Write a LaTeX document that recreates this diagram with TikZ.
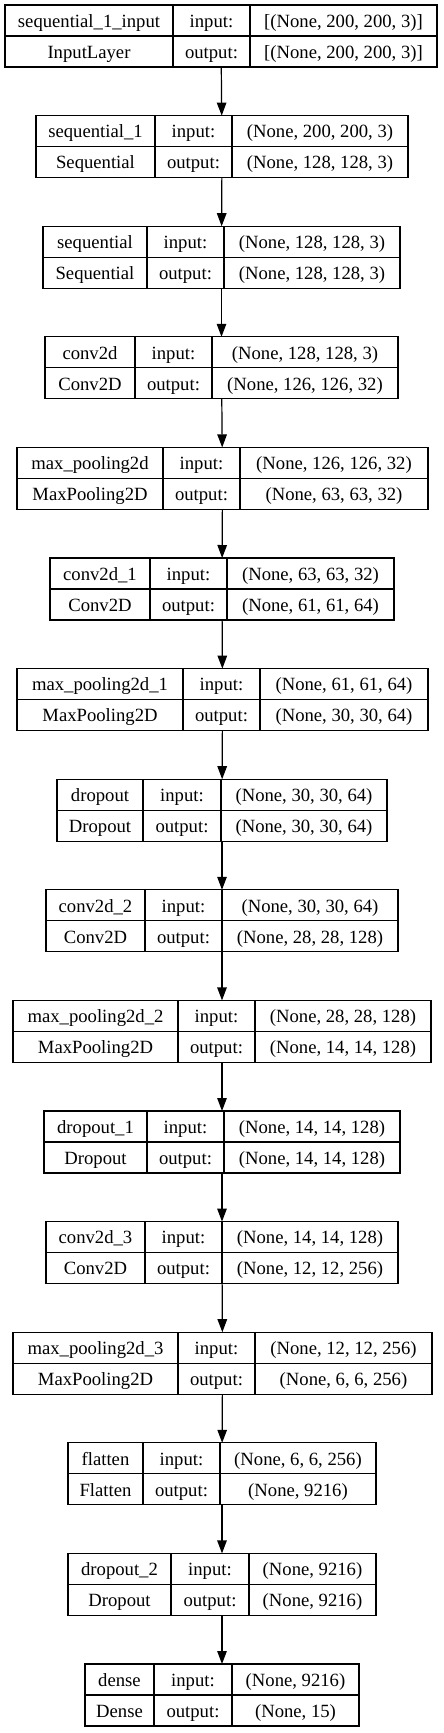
\documentclass[tikz,border=0pt]{standalone}
\usepackage{fontspec}
\setmainfont{Liberation Serif}
\usepackage{tikz}
\usetikzlibrary{arrows.meta}
\tikzstyle{frame}=[shape=rectangle, minimum height=62pt, inner sep=0pt, outer sep=0pt]
\tikzstyle{cell}=[draw=black, line width=1.2pt, shape=rectangle, minimum height=31pt, inner sep=0pt, outer sep=0pt, text height=13.5pt, text depth=0pt, font=\fontsize{18.67pt}{22pt}\selectfont]
\tikzstyle{flow edge}=[-{Triangle[length=13pt, width=9.5pt]}, draw=black, line width=1.2pt]
\pgfdeclarelayer{nodelayer}
\pgfdeclarelayer{edgelayer}
\pgfsetlayers{nodelayer,edgelayer,main}

\begin{document}
\begin{tikzpicture}[x=1pt, y=-1pt]
	\useasboundingbox (0,0) rectangle (444,1733);
	\begin{pgfonlayer}{nodelayer}
		% sequential_1_input
		\node [style=frame, minimum width=432pt] (0) at (221,36) {};
		\node [style=cell, minimum width=168pt] (0-name) at (89,20.5) {sequential\_1\_input};
		\node [style=cell, minimum width=77pt] (0-in) at (211.5,20.5) {input:};
		\node [style=cell, minimum width=187pt] (0-inval) at (343.5,20.5) {[(None, 200, 200, 3)]};
		\node [style=cell, minimum width=168pt] (0-type) at (89,51.5) {InputLayer};
		\node [style=cell, minimum width=77pt] (0-out) at (211.5,51.5) {output:};
		\node [style=cell, minimum width=187pt] (0-outval) at (343.5,51.5) {[(None, 200, 200, 3)]};
		% sequential_1
		\node [style=frame, minimum width=372pt] (1) at (222,146.6) {};
		\node [style=cell, minimum width=119pt] (1-name) at (95.5,131.1) {sequential\_1};
		\node [style=cell, minimum width=77pt] (1-in) at (193.5,131.1) {input:};
		\node [style=cell, minimum width=176pt] (1-inval) at (320,131.1) {(None, 200, 200, 3)};
		\node [style=cell, minimum width=119pt] (1-type) at (95.5,162.1) {Sequential};
		\node [style=cell, minimum width=77pt] (1-out) at (193.5,162.1) {output:};
		\node [style=cell, minimum width=176pt] (1-outval) at (320,162.1) {(None, 128, 128, 3)};
		% sequential
		\node [style=frame, minimum width=357pt] (2) at (221.5,257.2) {};
		\node [style=cell, minimum width=104pt] (2-name) at (95,241.7) {sequential};
		\node [style=cell, minimum width=77pt] (2-in) at (185.5,241.7) {input:};
		\node [style=cell, minimum width=176pt] (2-inval) at (312,241.7) {(None, 128, 128, 3)};
		\node [style=cell, minimum width=104pt] (2-type) at (95,272.7) {Sequential};
		\node [style=cell, minimum width=77pt] (2-out) at (185.5,272.7) {output:};
		\node [style=cell, minimum width=176pt] (2-outval) at (312,272.7) {(None, 128, 128, 3)};
		% conv2d
		\node [style=frame, minimum width=353pt] (3) at (221.5,367.8) {};
		\node [style=cell, minimum width=90pt] (3-name) at (90,352.3) {conv2d};
		\node [style=cell, minimum width=77pt] (3-in) at (173.5,352.3) {input:};
		\node [style=cell, minimum width=186pt] (3-inval) at (305,352.3) {(None, 128, 128, 3)};
		\node [style=cell, minimum width=90pt] (3-type) at (90,383.3) {Conv2D};
		\node [style=cell, minimum width=77pt] (3-out) at (173.5,383.3) {output:};
		\node [style=cell, minimum width=186pt] (3-outval) at (305,383.3) {(None, 126, 126, 32)};
		% max_pooling2d
		\node [style=frame, minimum width=411pt] (4) at (222.5,478.4) {};
		\node [style=cell, minimum width=146pt] (4-name) at (90,462.9) {max\_pooling2d};
		\node [style=cell, minimum width=77pt] (4-in) at (201.5,462.9) {input:};
		\node [style=cell, minimum width=188pt] (4-inval) at (334,462.9) {(None, 126, 126, 32)};
		\node [style=cell, minimum width=146pt] (4-type) at (90,493.9) {MaxPooling2D};
		\node [style=cell, minimum width=77pt] (4-out) at (201.5,493.9) {output:};
		\node [style=cell, minimum width=188pt] (4-outval) at (334,493.9) {(None, 63, 63, 32)};
		% conv2d_1
		\node [style=frame, minimum width=344pt] (5) at (222,589) {};
		\node [style=cell, minimum width=100pt] (5-name) at (100,573.5) {conv2d\_1};
		\node [style=cell, minimum width=77pt] (5-in) at (188.5,573.5) {input:};
		\node [style=cell, minimum width=167pt] (5-inval) at (310.5,573.5) {(None, 63, 63, 32)};
		\node [style=cell, minimum width=100pt] (5-type) at (100,604.5) {Conv2D};
		\node [style=cell, minimum width=77pt] (5-out) at (188.5,604.5) {output:};
		\node [style=cell, minimum width=167pt] (5-outval) at (310.5,604.5) {(None, 61, 61, 64)};
		% max_pooling2d_1
		\node [style=frame, minimum width=411pt] (6) at (222.5,699.6) {};
		\node [style=cell, minimum width=166pt] (6-name) at (100,684.1) {max\_pooling2d\_1};
		\node [style=cell, minimum width=77pt] (6-in) at (221.5,684.1) {input:};
		\node [style=cell, minimum width=168pt] (6-inval) at (344,684.1) {(None, 61, 61, 64)};
		\node [style=cell, minimum width=166pt] (6-type) at (100,715.1) {MaxPooling2D};
		\node [style=cell, minimum width=77pt] (6-out) at (221.5,715.1) {output:};
		\node [style=cell, minimum width=168pt] (6-outval) at (344,715.1) {(None, 30, 30, 64)};
		% dropout
		\node [style=frame, minimum width=330pt] (7) at (222,810.2) {};
		\node [style=cell, minimum width=86pt] (7-name) at (100,794.7) {dropout};
		\node [style=cell, minimum width=78pt] (7-in) at (182,794.7) {input:};
		\node [style=cell, minimum width=166pt] (7-inval) at (304,794.7) {(None, 30, 30, 64)};
		\node [style=cell, minimum width=86pt] (7-type) at (100,825.7) {Dropout};
		\node [style=cell, minimum width=78pt] (7-out) at (182,825.7) {output:};
		\node [style=cell, minimum width=166pt] (7-outval) at (304,825.7) {(None, 30, 30, 64)};
		% conv2d_2
		\node [style=frame, minimum width=352pt] (8) at (222,920.8) {};
		\node [style=cell, minimum width=99pt] (8-name) at (95.5,905.3) {conv2d\_2};
		\node [style=cell, minimum width=77pt] (8-in) at (183.5,905.3) {input:};
		\node [style=cell, minimum width=176pt] (8-inval) at (310,905.3) {(None, 30, 30, 64)};
		\node [style=cell, minimum width=99pt] (8-type) at (95.5,936.3) {Conv2D};
		\node [style=cell, minimum width=77pt] (8-out) at (183.5,936.3) {output:};
		\node [style=cell, minimum width=176pt] (8-outval) at (310,936.3) {(None, 28, 28, 128)};
		% max_pooling2d_2
		\node [style=frame, minimum width=418pt] (9) at (222,1031.4) {};
		\node [style=cell, minimum width=165pt] (9-name) at (95.5,1015.9) {max\_pooling2d\_2};
		\node [style=cell, minimum width=77pt] (9-in) at (216.5,1015.9) {input:};
		\node [style=cell, minimum width=176pt] (9-inval) at (343,1015.9) {(None, 28, 28, 128)};
		\node [style=cell, minimum width=165pt] (9-type) at (95.5,1046.9) {MaxPooling2D};
		\node [style=cell, minimum width=77pt] (9-out) at (216.5,1046.9) {output:};
		\node [style=cell, minimum width=176pt] (9-outval) at (343,1046.9) {(None, 14, 14, 128)};
		% dropout_1
		\node [style=frame, minimum width=356pt] (10) at (222,1142) {};
		\node [style=cell, minimum width=103pt] (10-name) at (95.5,1126.5) {dropout\_1};
		\node [style=cell, minimum width=77pt] (10-in) at (185.5,1126.5) {input:};
		\node [style=cell, minimum width=176pt] (10-inval) at (312,1126.5) {(None, 14, 14, 128)};
		\node [style=cell, minimum width=103pt] (10-type) at (95.5,1157.5) {Dropout};
		\node [style=cell, minimum width=77pt] (10-out) at (185.5,1157.5) {output:};
		\node [style=cell, minimum width=176pt] (10-outval) at (312,1157.5) {(None, 14, 14, 128)};
		% conv2d_3
		\node [style=frame, minimum width=352pt] (11) at (222,1252.6) {};
		\node [style=cell, minimum width=99pt] (11-name) at (95.5,1237.1) {conv2d\_3};
		\node [style=cell, minimum width=77pt] (11-in) at (183.5,1237.1) {input:};
		\node [style=cell, minimum width=176pt] (11-inval) at (310,1237.1) {(None, 14, 14, 128)};
		\node [style=cell, minimum width=99pt] (11-type) at (95.5,1268.1) {Conv2D};
		\node [style=cell, minimum width=77pt] (11-out) at (183.5,1268.1) {output:};
		\node [style=cell, minimum width=176pt] (11-outval) at (310,1268.1) {(None, 12, 12, 256)};
		% max_pooling2d_3
		\node [style=frame, minimum width=419pt] (12) at (222.5,1363.2) {};
		\node [style=cell, minimum width=165pt] (12-name) at (95.5,1347.7) {max\_pooling2d\_3};
		\node [style=cell, minimum width=77pt] (12-in) at (216.5,1347.7) {input:};
		\node [style=cell, minimum width=177pt] (12-inval) at (343.5,1347.7) {(None, 12, 12, 256)};
		\node [style=cell, minimum width=165pt] (12-type) at (95.5,1378.7) {MaxPooling2D};
		\node [style=cell, minimum width=77pt] (12-out) at (216.5,1378.7) {output:};
		\node [style=cell, minimum width=177pt] (12-outval) at (343.5,1378.7) {(None, 6, 6, 256)};
		% flatten
		\node [style=frame, minimum width=308pt] (13) at (222,1473.8) {};
		\node [style=cell, minimum width=75pt] (13-name) at (105.5,1458.3) {flatten};
		\node [style=cell, minimum width=77pt] (13-in) at (181.5,1458.3) {input:};
		\node [style=cell, minimum width=156pt] (13-inval) at (298,1458.3) {(None, 6, 6, 256)};
		\node [style=cell, minimum width=75pt] (13-type) at (105.5,1489.3) {Flatten};
		\node [style=cell, minimum width=77pt] (13-out) at (181.5,1489.3) {output:};
		\node [style=cell, minimum width=156pt] (13-outval) at (298,1489.3) {(None, 9216)};
		% dropout_2
		\node [style=frame, minimum width=308pt] (14) at (222,1584.4) {};
		\node [style=cell, minimum width=103pt] (14-name) at (119.5,1568.9) {dropout\_2};
		\node [style=cell, minimum width=78pt] (14-in) at (210,1568.9) {input:};
		\node [style=cell, minimum width=127pt] (14-inval) at (312.5,1568.9) {(None, 9216)};
		\node [style=cell, minimum width=103pt] (14-type) at (119.5,1599.9) {Dropout};
		\node [style=cell, minimum width=78pt] (14-out) at (210,1599.9) {output:};
		\node [style=cell, minimum width=127pt] (14-outval) at (312.5,1599.9) {(None, 9216)};
		% dense
		\node [style=frame, minimum width=274pt] (15) at (222,1695) {};
		\node [style=cell, minimum width=69pt] (15-name) at (119.5,1679.5) {dense};
		\node [style=cell, minimum width=78pt] (15-in) at (193,1679.5) {input:};
		\node [style=cell, minimum width=127pt] (15-inval) at (295.5,1679.5) {(None, 9216)};
		\node [style=cell, minimum width=69pt] (15-type) at (119.5,1710.5) {Dense};
		\node [style=cell, minimum width=78pt] (15-out) at (193,1710.5) {output:};
		\node [style=cell, minimum width=127pt] (15-outval) at (295.5,1710.5) {(None, 15)};
	\end{pgfonlayer}
	\begin{pgfonlayer}{edgelayer}
		\draw [style=flow edge] (0) to (1);
		\draw [style=flow edge] (1) to (2);
		\draw [style=flow edge] (2) to (3);
		\draw [style=flow edge] (3) to (4);
		\draw [style=flow edge] (4) to (5);
		\draw [style=flow edge] (5) to (6);
		\draw [style=flow edge] (6) to (7);
		\draw [style=flow edge] (7) to (8);
		\draw [style=flow edge] (8) to (9);
		\draw [style=flow edge] (9) to (10);
		\draw [style=flow edge] (10) to (11);
		\draw [style=flow edge] (11) to (12);
		\draw [style=flow edge] (12) to (13);
		\draw [style=flow edge] (13) to (14);
		\draw [style=flow edge] (14) to (15);
	\end{pgfonlayer}
\end{tikzpicture}
\end{document}
